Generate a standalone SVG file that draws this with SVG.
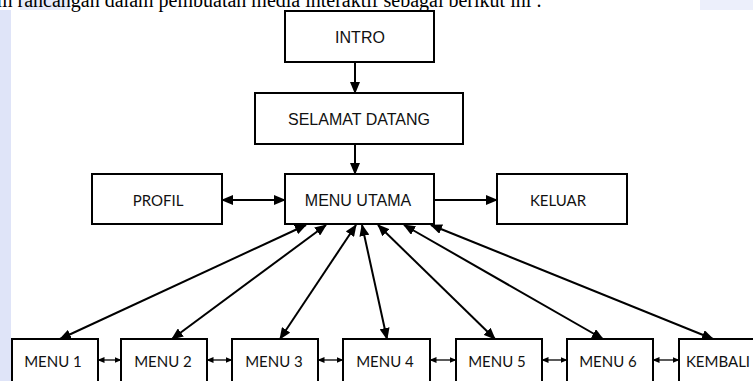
<svg xmlns="http://www.w3.org/2000/svg" width="753" height="381" viewBox="0 0 753 381">
<defs>
<marker id="ah" markerUnits="userSpaceOnUse" markerWidth="12" markerHeight="10" refX="11" refY="5" orient="auto-start-reverse" viewBox="0 0 12 10">
<path d="M0,0 L12,5 L0,10 Z" fill="#000"/>
</marker>
<marker id="as" markerUnits="userSpaceOnUse" markerWidth="7" markerHeight="6" refX="6.5" refY="3" orient="auto-start-reverse" viewBox="0 0 7 6">
<path d="M0,0 L7,3 L0,6 Z" fill="#000"/>
</marker>
</defs>
<style>
.box{fill:#fff;stroke:#000;stroke-width:2}
.ar{font-family:"Liberation Sans",Arial,sans-serif;font-size:16px;fill:#111;text-anchor:middle;dominant-baseline:central}
.ca{font-family:Lato,"Open Sans",sans-serif;font-size:15px;fill:#111;text-anchor:middle;dominant-baseline:central}
.ln{stroke:#000;stroke-width:2;fill:none}
.lns{stroke:#000;stroke-width:1.3;fill:none}
</style>
<rect x="0" y="0" width="753" height="381" fill="#fff"/>
<g id="watermark">
<rect x="0" y="10" width="11" height="371" fill="#dfe4f8"/>
<rect x="20" y="0" width="50" height="10" fill="#e6eafa"/>
<rect x="700" y="0" width="53" height="10" fill="#eceffb"/>
</g>
<text x="-3" y="7" font-family="'Liberation Serif','Times New Roman',serif" font-size="20" fill="#000">m rancangan dalam pembuatan media interaktif sebagai berikut ini :</text>
<g id="connectors">
<line class="ln" x1="355" y1="62" x2="355" y2="93" marker-end="url(#ah)"/>
<line class="ln" x1="355" y1="144" x2="355" y2="174" marker-end="url(#ah)"/>
<line class="ln" x1="222" y1="200" x2="285" y2="200" marker-start="url(#ah)" marker-end="url(#ah)"/>
<line class="ln" x1="434" y1="200" x2="497" y2="200" marker-end="url(#ah)"/>
<line class="ln" x1="60" y1="339" x2="306" y2="225" marker-start="url(#ah)" marker-end="url(#ah)"/>
<line class="ln" x1="172" y1="339" x2="326" y2="225" marker-start="url(#ah)" marker-end="url(#ah)"/>
<line class="ln" x1="280" y1="339" x2="356" y2="225" marker-start="url(#ah)" marker-end="url(#ah)"/>
<line class="ln" x1="387" y1="339" x2="362" y2="225" marker-start="url(#ah)" marker-end="url(#ah)"/>
<line class="ln" x1="495" y1="339" x2="378" y2="225" marker-start="url(#ah)" marker-end="url(#ah)"/>
<line class="ln" x1="603" y1="339" x2="404" y2="225" marker-start="url(#ah)" marker-end="url(#ah)"/>
<line class="ln" x1="713" y1="339" x2="431" y2="225" marker-start="url(#ah)" marker-end="url(#ah)"/>
<line class="lns" x1="98" y1="360" x2="121" y2="360" marker-start="url(#as)" marker-end="url(#as)"/>
<line class="lns" x1="207" y1="360" x2="232" y2="360" marker-start="url(#as)" marker-end="url(#as)"/>
<line class="lns" x1="318" y1="360" x2="343" y2="360" marker-start="url(#as)" marker-end="url(#as)"/>
<line class="lns" x1="430" y1="360" x2="456" y2="360" marker-start="url(#as)" marker-end="url(#as)"/>
<line class="lns" x1="542" y1="360" x2="567" y2="360" marker-start="url(#as)" marker-end="url(#as)"/>
<line class="lns" x1="653" y1="360" x2="679" y2="360" marker-start="url(#as)" marker-end="url(#as)"/>
</g>
<g id="intro"><rect class="box" x="285" y="11" width="149" height="51"/><text class="ar" x="360" y="37">INTRO</text></g>
<g id="selamat"><rect class="box" x="255" y="93" width="208" height="51"/><text class="ar" x="359" y="119">SELAMAT DATANG</text></g>
<g id="menu-utama"><rect class="box" x="285" y="174" width="149" height="50"/><text class="ar" x="358" y="200">MENU UTAMA</text></g>
<g id="profil"><rect class="box" x="92" y="174" width="130" height="50"/><text class="ca" x="158" y="200">PROFIL</text></g>
<g id="keluar"><rect class="box" x="497" y="174" width="130" height="50"/><text class="ca" x="558" y="200">KELUAR</text></g>
<g id="menu1"><rect class="box" x="12" y="339" width="86" height="50"/><text class="ca" x="53" y="361">MENU 1</text></g>
<g id="menu2"><rect class="box" x="121" y="339" width="86" height="50"/><text class="ca" x="163" y="361">MENU 2</text></g>
<g id="menu3"><rect class="box" x="232" y="339" width="86" height="50"/><text class="ca" x="274" y="361">MENU 3</text></g>
<g id="menu4"><rect class="box" x="343" y="339" width="87" height="50"/><text class="ca" x="385" y="361">MENU 4</text></g>
<g id="menu5"><rect class="box" x="456" y="339" width="86" height="50"/><text class="ca" x="497" y="361">MENU 5</text></g>
<g id="menu6"><rect class="box" x="567" y="339" width="86" height="50"/><text class="ca" x="608" y="361">MENU 6</text></g>
<g id="kembali"><rect class="box" x="679" y="339" width="86" height="50"/><text class="ca" x="718" y="361">KEMBALI</text></g>
</svg>
